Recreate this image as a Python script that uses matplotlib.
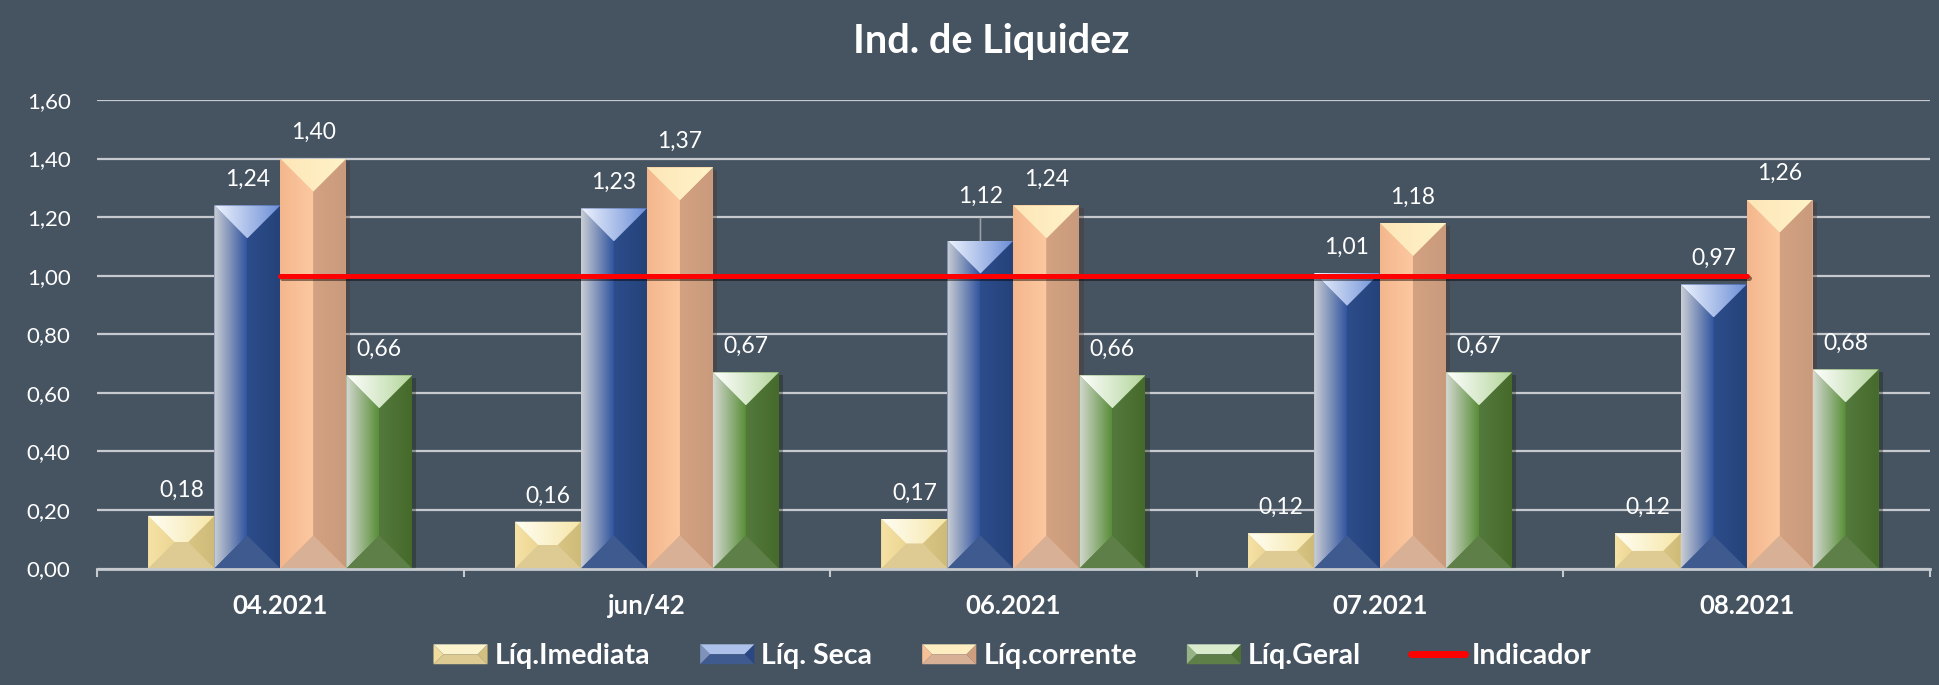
import numpy as np
import matplotlib
matplotlib.use("Agg")
import matplotlib.pyplot as plt
import matplotlib.patheffects as pe
from matplotlib.patches import Polygon, Patch
from matplotlib.lines import Line2D
from matplotlib.colors import LinearSegmentedColormap, to_rgb
from matplotlib.legend_handler import HandlerBase

plt.rcParams['font.family'] = ['Lato', 'DejaVu Sans']

# dados
meses = ['04.2021', 'jun/42', '06.2021', '07.2021', '08.2021']
liq_imediata = [0.18, 0.16, 0.17, 0.12, 0.12]
liq_seca = [1.24, 1.23, 1.12, 1.01, 0.97]
liq_corrente = [1.40, 1.37, 1.24, 1.18, 1.26]
liq_geral = [0.66, 0.67, 0.66, 0.67, 0.68]
indicador = [1.00, 1.00, 1.00, 1.00, 1.00]

series = [
    ('Líq.Imediata', liq_imediata),
    ('Líq. Seca', liq_seca),
    ('Líq.corrente', liq_corrente),
    ('Líq.Geral', liq_geral),
]

# cores das faces: esquerda (2), direita (2), topo (2), base, cor média
estilos = {
    'Líq.Imediata': dict(left=('#f6e2a6', '#ecd694'), right=('#d8c585', '#cfbb78'),
                         top=('#fffef4', '#f6e6a8'), bottom='#ddcb93', base='#e3cf92'),
    'Líq. Seca': dict(left=('#c9cdd4', '#3356a0'), right=('#2c4c8b', '#25437a'),
                      top=('#eef3fe', '#6d8fd6'), bottom='#3f5a8f', base='#2f4e8e'),
    'Líq.corrente': dict(left=('#f4b78d', '#fcc8a0'), right=('#d2a283', '#c99a7b'),
                         top=('#fde6b8', '#fff3c8'), bottom='#d8b095', base='#f1b58c'),
    'Líq.Geral': dict(left=('#d3d8d0', '#5a8f3a'), right=('#54793d', '#456a2a'),
                      top=('#ffffff', '#b4d69c'), bottom='#5f7f48', base='#4f7a32'),
}

fundo = '#465361'
branco = '#ffffff'
grade = '#c6cacf'


def telhado(x0, x1, y0, y1, s):
    # faces de um bisel a 45 graus; s = unidades y por unidade x (em pixels)
    c = (x0 + x1) / 2
    d = (x1 - x0) / 2 * s
    if (y1 - y0) >= 2 * d:
        a, b = (c, y0 + d), (c, y1 - d)
        topo = [(x0, y1), (x1, y1), b]
        base = [(x0, y0), (x1, y0), a]
        esq = [(x0, y0), a, b, (x0, y1)]
        dir_ = [(x1, y0), a, b, (x1, y1)]
    else:
        ym = (y0 + y1) / 2
        e = (y1 - y0) / 2 / s
        a, b = (x0 + e, ym), (x1 - e, ym)
        topo = [(x0, y1), (x1, y1), b, a]
        base = [(x0, y0), (x1, y0), b, a]
        esq = [(x0, y0), a, (x0, y1)]
        dir_ = [(x1, y0), b, (x1, y1)]
    return esq, dir_, topo, base


def preencher_gradiente(ax, verts, c0, c1, z):
    xs = [v[0] for v in verts]
    ys = [v[1] for v in verts]
    poly = Polygon(verts, closed=True, facecolor='none', edgecolor='none')
    ax.add_patch(poly)
    cmap = LinearSegmentedColormap.from_list('g', [c0, c1])
    img = ax.imshow(np.linspace(0, 1, 64)[None, :], cmap=cmap, aspect='auto',
                    extent=[min(xs), max(xs), min(ys), max(ys)], origin='lower',
                    interpolation='bilinear', zorder=z)
    img.set_clip_path(poly)


def meio(c0, c1):
    a, b = np.array(to_rgb(c0)), np.array(to_rgb(c1))
    return tuple((a + b) / 2)


class BiselHandler(HandlerBase):
    def __init__(self, estilo):
        super().__init__()
        self.estilo = estilo

    def create_artists(self, legend, orig_handle, xdescent, ydescent,
                       width, height, fontsize, trans):
        x0, y0 = -xdescent, -ydescent
        esq, dir_, topo, base = telhado(x0, x0 + width, y0, y0 + height, 1.0)
        st = self.estilo
        arts = []
        for verts, cor in [(esq, meio(*st['left'])), (dir_, meio(*st['right'])),
                           (topo, meio(*st['top'])), (base, st['bottom'])]:
            arts.append(Polygon(verts, closed=True, facecolor=cor,
                                edgecolor='none', transform=trans))
        return arts


fig = plt.figure(figsize=(19.4, 6.85), dpi=100)
fig.patch.set_facecolor(fundo)
ax = fig.add_axes([0.050, 0.170, 0.9448, 0.684])
ax.set_facecolor('none')

x = np.arange(len(meses))
largura = 0.18
ax.set_xlim(-0.5, len(meses) - 0.5)
ax.set_ylim(0, 1.6)

p = ax.transData.transform([(0, 0), (1, 1)])
s = (p[1, 0] - p[0, 0]) / (p[1, 1] - p[0, 1])

for j, (nome, valores) in enumerate(series):
    st = estilos[nome]
    pos = x + (j - 1.5) * largura
    barras = ax.bar(pos, valores, width=largura, color=st['base'], zorder=2,
                    path_effects=[pe.SimplePatchShadow(offset=(3, -2), alpha=0.35),
                                  pe.Normal()])
    for r in barras:
        x0, x1 = r.get_x(), r.get_x() + r.get_width()
        esq, dir_, topo, base = telhado(x0, x1, 0, r.get_height(), s)
        preencher_gradiente(ax, esq, st['left'][0], st['left'][1], 2.1)
        preencher_gradiente(ax, dir_, st['right'][0], st['right'][1], 2.1)
        preencher_gradiente(ax, topo, st['top'][0], st['top'][1], 2.2)
        ax.add_patch(Polygon(base, closed=True, facecolor=st['bottom'],
                             edgecolor='none', zorder=2.2))
    for k, (xi, v) in enumerate(zip(pos, valores)):
        txt = f"{v:.2f}".replace('.', ',')
        if nome == 'Líq. Seca' and k == 2:
            ax.annotate(txt, xy=(xi, v), xytext=(0, 24), textcoords='offset points',
                        ha='center', va='bottom', color=branco, fontsize=16.5, zorder=5,
                        arrowprops=dict(arrowstyle='-', color='#9aa0a6', lw=1.2,
                                        shrinkA=6, shrinkB=0))
        else:
            ax.annotate(txt, xy=(xi, v), xytext=(0, 11), textcoords='offset points',
                        ha='center', va='bottom', color=branco, fontsize=16.5, zorder=5)

ax.plot(x, indicador, color='#ff0000', lw=3.6, solid_capstyle='round', zorder=4,
        path_effects=[pe.SimpleLineShadow(offset=(1.5, -1.5), alpha=0.45), pe.Normal()])

ax.set_xlim(-0.5, len(meses) - 0.5)
ax.set_ylim(0, 1.6)

# eixos e grade
ax.set_yticks(np.arange(0, 1.61, 0.2))
ax.set_yticklabels([f"{t:.2f}".replace('.', ',') for t in np.arange(0, 1.61, 0.2)])
ax.yaxis.grid(True, color=grade, lw=1.6)
ax.set_axisbelow(True)
ax.tick_params(axis='y', length=0, pad=19, labelsize=16, labelcolor=branco)
ax.set_xticks(x)
ax.set_xticklabels(meses, fontweight='bold')
ax.set_xticks(np.arange(-0.5, len(meses), 1), minor=True)
ax.tick_params(axis='x', which='major', length=0, pad=18, labelsize=18.5, labelcolor=branco)
ax.tick_params(axis='x', which='minor', length=6, width=1.5, color=grade)
for lado in ['top', 'right', 'left']:
    ax.spines[lado].set_visible(False)
ax.spines['bottom'].set_color(grade)
ax.spines['bottom'].set_linewidth(2)

fig.text(0.511, 0.940, 'Ind. de Liquidez', ha='center', va='center',
         fontsize=28.5, fontweight='bold', color=branco)

# legenda
handles, hmap = [], {}
for nome, _ in series:
    h = Patch(label=nome)
    handles.append(h)
    hmap[h] = BiselHandler(estilos[nome])
handles.append(Line2D([], [], color='#ff0000', lw=5, solid_capstyle='round',
                      label='Indicador'))
leg = fig.legend(handles=handles, handler_map=hmap, loc='center',
                 bbox_to_anchor=(0.522, 0.042), ncol=5, frameon=False,
                 prop={'size': 20.5, 'weight': 'bold'}, labelcolor=branco,
                 handlelength=1.9, handleheight=0.7, handletextpad=0.25,
                 columnspacing=1.75)

fig.savefig('out.png', dpi=100, facecolor=fundo)
